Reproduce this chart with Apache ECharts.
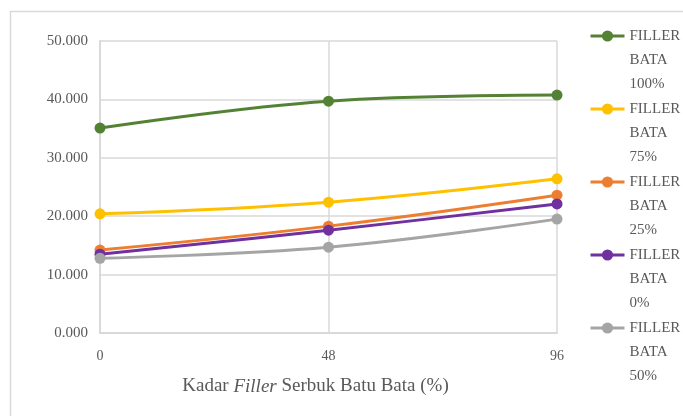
<!DOCTYPE html>
<html>
<head>
<meta charset="utf-8">
<script src="https://cdn.jsdelivr.net/npm/echarts@6/dist/echarts.min.js"></script>
<style>html,body{margin:0;padding:0;background:#fff}#c{width:683px;height:416px}</style>
</head>
<body>
<div id="c"></div>
<script>
var xValues = [0, 48, 96];
var seriesNames = ['FILLER BATA 100%', 'FILLER BATA 75%', 'FILLER BATA 25%', 'FILLER BATA 0%', 'FILLER BATA 50%'];
var filler100 = [35.1, 39.7, 40.75];
var filler75 = [20.4, 22.4, 26.4];
var filler25 = [14.2, 18.3, 23.6];
var filler0 = [13.5, 17.6, 22.1];
var filler50 = [12.8, 14.7, 19.5];
var seriesColors = ['#548235', '#FFC000', '#ED7D31', '#7030A0', '#A5A5A5'];
var allValues = [filler100, filler75, filler25, filler0, filler50];

var chart = echarts.init(document.getElementById('c'));
var FONT = '"Liberation Serif", "Times New Roman", serif';
var TEXT = '#595959';
var series = seriesNames.map(function (n, i) {
  return {
    name: n,
    type: 'line',
    smooth: 0.4,
    symbol: 'circle',
    symbolSize: 11,
    lineStyle: { width: 3, color: seriesColors[i] },
    itemStyle: { color: seriesColors[i] },
    data: xValues.map(function (x, j) { return [x, allValues[i][j]]; })
  };
});
chart.setOption({
  animation: false,
  backgroundColor: '#fff',
  grid: { left: 100, right: 126, top: 41, bottom: 83 },
  xAxis: {
    type: 'value', min: 0, max: 96, interval: 48,
    axisLine: { show: true, lineStyle: { color: '#d9d9d9', width: 2 } },
    axisTick: { show: false },
    splitLine: { show: true, lineStyle: { color: '#d9d9d9', width: 1.5 } },
    axisLabel: { color: TEXT, fontFamily: FONT, fontSize: 14, margin: 16 },
    name: '{a|Kadar }{b|Filler}{a| Serbuk Batu Bata (%)}',
    nameLocation: 'middle', nameGap: 44,
    nameTextStyle: {
      padding: [0, 26, 0, 0],
      rich: {
        a: { color: TEXT, fontFamily: FONT, fontSize: 19 },
        b: { color: TEXT, fontFamily: FONT, fontSize: 19, fontStyle: 'italic' }
      }
    }
  },
  yAxis: {
    type: 'value', min: 0, max: 50, interval: 10,
    axisLine: { show: true, lineStyle: { color: '#d9d9d9', width: 2 } },
    axisTick: { show: false },
    splitLine: { show: true, lineStyle: { color: '#d9d9d9', width: 1.5 } },
    axisLabel: { color: TEXT, fontFamily: FONT, fontSize: 15, margin: 12,
      formatter: function (v) { return v.toFixed(3); } }
  },
  legend: {
    orient: 'vertical', left: 589, top: -24, padding: 0,
    itemWidth: 34, itemHeight: 14, itemGap: -47,
    lineStyle: { width: 3 },
    data: seriesNames,
    formatter: function (n) { return '\n\n' + n.split(' ').join('\n'); },
    textStyle: { color: TEXT, fontFamily: FONT, fontSize: 15, lineHeight: 24 }
  },
  graphic: [
    { type: 'line', shape: { x1: 10.5, y1: 11, x2: 10.5, y2: 416 }, style: { stroke: '#d9d9d9', lineWidth: 1.5 } },
    { type: 'line', shape: { x1: 10, y1: 11.5, x2: 683, y2: 11.5 }, style: { stroke: '#d9d9d9', lineWidth: 1.5 } }
  ],
  series: series
});
</script>
</body>
</html>
